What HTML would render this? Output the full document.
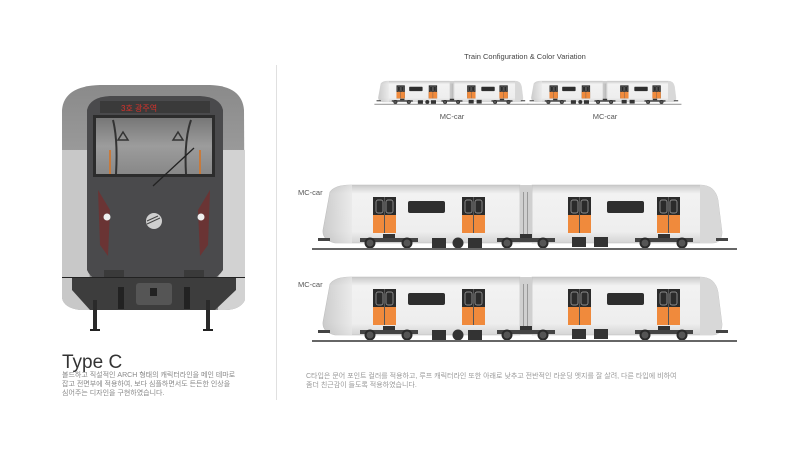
<!DOCTYPE html>
<html><head><meta charset="utf-8"><style>
html,body{margin:0;padding:0;background:#fff;}
svg{display:block;}
text{font-family:"Liberation Sans","Noto Sans CJK KR",sans-serif;}
</style></head><body>
<svg width="800" height="449" viewBox="0 0 800 449" xmlns="http://www.w3.org/2000/svg">
<defs>
<linearGradient id="bodyG" x1="0" y1="0" x2="0" y2="1">
<stop offset="0" stop-color="#c9c9c9"/><stop offset="0.15" stop-color="#f2f2f2"/><stop offset="0.8" stop-color="#eeeeee"/><stop offset="1" stop-color="#d4d4d4"/></linearGradient>
<linearGradient id="noseG" x1="0" y1="0" x2="1" y2="0">
<stop offset="0" stop-color="#bdbdbd"/><stop offset="1" stop-color="#e8e8e8"/></linearGradient>
<linearGradient id="frontG" x1="0" y1="0" x2="0" y2="1">
<stop offset="0" stop-color="#8a8a8a"/><stop offset="0.3" stop-color="#9a9a9a"/><stop offset="1" stop-color="#8c8c8c"/></linearGradient>
<linearGradient id="winG" x1="0" y1="0" x2="0" y2="1">
<stop offset="0" stop-color="#777"/><stop offset="0.5" stop-color="#9c9c9c"/><stop offset="1" stop-color="#888"/></linearGradient>
<g id="car">
  <path d="M330 192 Q335 185 350 185 L520 185 L520 243 L335 243 Q322 240 323 230 Z" fill="url(#bodyG)" stroke="#bdbdbd" stroke-width="0.6"/>
  <path d="M532 185 L700 185 Q715 185 718 200 L722 232 Q722 243 712 243 L532 243 Z" fill="url(#bodyG)" stroke="#bdbdbd" stroke-width="0.6"/>
  <path d="M330 192 Q335 185 350 185 L352 185 L352 243 L335 243 Q322 240 323 230 Z" fill="url(#noseG)" opacity="0.7"/>
  <path d="M700 185 Q715 185 718 200 L722 232 Q722 243 712 243 L700 243 Z" fill="#d8d8d8"/>
  <rect x="520" y="185" width="12" height="58" fill="#d0d0d0"/>
  <rect x="523" y="192" width="1" height="50" fill="#999"/><rect x="527" y="192" width="1" height="50" fill="#999"/>
  <g>
    <rect x="373" y="197" width="23" height="36" fill="#2b2b2b"/><rect x="373" y="215" width="23" height="18" fill="#f08a3c"/><rect x="384" y="197" width="1" height="36" fill="#555"/>
    <rect x="462" y="197" width="23" height="36" fill="#2b2b2b"/><rect x="462" y="215" width="23" height="18" fill="#f08a3c"/><rect x="473" y="197" width="1" height="36" fill="#555"/>
    <rect x="568" y="197" width="23" height="36" fill="#2b2b2b"/><rect x="568" y="215" width="23" height="18" fill="#f08a3c"/><rect x="579" y="197" width="1" height="36" fill="#555"/>
    <rect x="657" y="197" width="23" height="36" fill="#2b2b2b"/><rect x="657" y="215" width="23" height="18" fill="#f08a3c"/><rect x="668" y="197" width="1" height="36" fill="#555"/>
    <rect x="376" y="200" width="7" height="13" rx="2" fill="none" stroke="#aaa" stroke-width="0.7"/><rect x="386" y="200" width="7" height="13" rx="2" fill="none" stroke="#aaa" stroke-width="0.7"/>
    <rect x="465" y="200" width="7" height="13" rx="2" fill="none" stroke="#aaa" stroke-width="0.7"/><rect x="475" y="200" width="7" height="13" rx="2" fill="none" stroke="#aaa" stroke-width="0.7"/>
    <rect x="571" y="200" width="7" height="13" rx="2" fill="none" stroke="#aaa" stroke-width="0.7"/><rect x="581" y="200" width="7" height="13" rx="2" fill="none" stroke="#aaa" stroke-width="0.7"/>
    <rect x="660" y="200" width="7" height="13" rx="2" fill="none" stroke="#aaa" stroke-width="0.7"/><rect x="670" y="200" width="7" height="13" rx="2" fill="none" stroke="#aaa" stroke-width="0.7"/>
  </g>
  <rect x="408" y="201" width="37" height="12" rx="2" fill="#2e2e2e"/>
  <rect x="607" y="201" width="37" height="12" rx="2" fill="#2e2e2e"/>
  <g fill="#333">
    <rect x="432" y="238" width="14" height="10"/><circle cx="458" cy="243" r="5.5"/><rect x="468" y="238" width="14" height="10"/>
    <rect x="572" y="237" width="14" height="10"/><rect x="594" y="237" width="14" height="10"/>
    <rect x="360" y="238" width="58" height="4" fill="#444"/><rect x="497" y="238" width="58" height="4" fill="#444"/><rect x="635" y="238" width="58" height="4" fill="#444"/>
    <rect x="383" y="234" width="12" height="4"/><rect x="520" y="234" width="12" height="4"/><rect x="658" y="234" width="12" height="4"/>
  </g>
  <g fill="#555" stroke="#2a2a2a" stroke-width="2">
    <circle cx="370" cy="243" r="4.5"/><circle cx="407" cy="243" r="4.5"/>
    <circle cx="507" cy="243" r="4.5"/><circle cx="543" cy="243" r="4.5"/>
    <circle cx="645" cy="243" r="4.5"/><circle cx="682" cy="243" r="4.5"/>
  </g>
  <rect x="318" y="238" width="12" height="3" fill="#444"/><rect x="716" y="238" width="12" height="3" fill="#444"/>
  <rect x="312" y="248" width="425" height="2" fill="#666"/>
</g>
</defs>

<rect x="276" y="65" width="1" height="335" fill="#e0e0e0"/>

<g>
  <path d="M62 110 Q64 86 100 85 L210 85 Q242 86 244 110 L245 300 Q240 310 225 310 L80 310 Q64 308 62 298 Z" fill="url(#frontG)"/>
  <path d="M62 150 L62 298 Q64 308 80 310 L90 310 L88 150 Z" fill="#c8c8c8"/>
  <path d="M245 150 L245 300 Q240 310 225 310 L218 310 L220 150 Z" fill="#d2d2d2"/>
  <path d="M87 110 Q90 97 110 96 L200 96 Q220 97 223 110 L223 270 Q215 282 200 282 L110 282 Q92 282 87 270 Z" fill="#4a4a4c"/>
  <rect x="100" y="101" width="110" height="12" fill="#3a3a3a"/>
  <text x="121" y="111" font-size="8" fill="#d9322b">3호 광주역</text>
  <rect x="93" y="115" width="122" height="62" fill="#2c2c2c"/>
  <rect x="96" y="118" width="116" height="56" fill="url(#winG)"/>
  <path d="M118 140 l5 -8 l5 8 z M173 140 l5 -8 l5 8 z" fill="none" stroke="#333" stroke-width="1.5"/>
  <path d="M113 120 Q118 140 116 174 M191 120 Q184 140 186 174" stroke="#333" stroke-width="2" fill="none"/>
  <rect x="109" y="150" width="2" height="24" fill="#c77a3c"/><rect x="199" y="150" width="2" height="24" fill="#c77a3c"/>
  <line x1="153" y1="186" x2="194" y2="148" stroke="#222" stroke-width="1.3"/>
  <path d="M98 190 L110 210 L108 256 L100 245 Z" fill="#6a3434"/>
  <path d="M210 190 L198 210 L200 256 L208 245 Z" fill="#6a3434"/>
  <circle cx="107" cy="217" r="3.5" fill="#eee"/><circle cx="201" cy="217" r="3.5" fill="#eee"/>
  <circle cx="154" cy="221" r="8" fill="#cfcfcf"/>
  <path d="M147 224 L160 218 M147 221 L158 216" stroke="#444" stroke-width="1"/>
  <rect x="104" y="270" width="20" height="12" fill="#3a3a3a"/><rect x="184" y="270" width="20" height="12" fill="#3a3a3a"/>
  <path d="M72 278 L236 278 L236 290 L215 310 L90 310 L72 290 Z" fill="#3d3d3d"/>
  <rect x="62" y="277" width="183" height="1" fill="#222"/>
  <rect x="136" y="283" width="36" height="22" rx="3" fill="#555"/>
  <rect x="150" y="288" width="7" height="8" fill="#222"/>
  <rect x="118" y="287" width="6" height="22" fill="#222"/><rect x="184" y="287" width="6" height="22" fill="#222"/>
  <rect x="93" y="300" width="4" height="30" fill="#2a2a2a"/><rect x="206" y="300" width="4" height="30" fill="#2a2a2a"/>
  <rect x="90" y="329" width="10" height="2" fill="#222"/><rect x="203" y="329" width="10" height="2" fill="#222"/>
</g>
<text x="62" y="368" font-size="19" fill="#333" font-weight="300">Type C</text>
<text font-size="7" fill="#888">
<tspan x="62" y="377">볼드하고 직설적인 ARCH 형태의 캐릭터라인을 메인 테마로</tspan>
<tspan x="62" y="386">잡고 전면부에 적용하여, 보다 심플하면서도 든든한 인상을</tspan>
<tspan x="62" y="395">심어주는 디자인을 구현하였습니다.</tspan>
</text>

<text x="525" y="59" font-size="7.5" fill="#444" text-anchor="middle">Train Configuration &amp; Color Variation</text>
<use href="#car" transform="translate(378,81) scale(0.3625) translate(-322,-185)"/>
<use href="#car" transform="translate(531,81) scale(0.3625) translate(-322,-185)"/>
<text x="452" y="119" font-size="7.5" fill="#555" text-anchor="middle">MC-car</text>
<text x="605" y="119" font-size="7.5" fill="#555" text-anchor="middle">MC-car</text>

<text x="298" y="195" font-size="7.5" fill="#555">MC-car</text>
<use href="#car"/>
<text x="298" y="287" font-size="7.5" fill="#555">MC-car</text>
<use href="#car" transform="translate(0,92)"/>

<text font-size="7" fill="#999">
<tspan x="306" y="378">C타입은 문어 포인트 컬러를 적용하고, 루프 캐릭터라인 또한 아래로 낮추고 전반적인 라운딩 엣지를 잘 살려, 다른 타입에 비하여</tspan>
<tspan x="306" y="387">좀더 친근감이 들도록 적용하였습니다.</tspan>
</text>
</svg>
</body></html>
